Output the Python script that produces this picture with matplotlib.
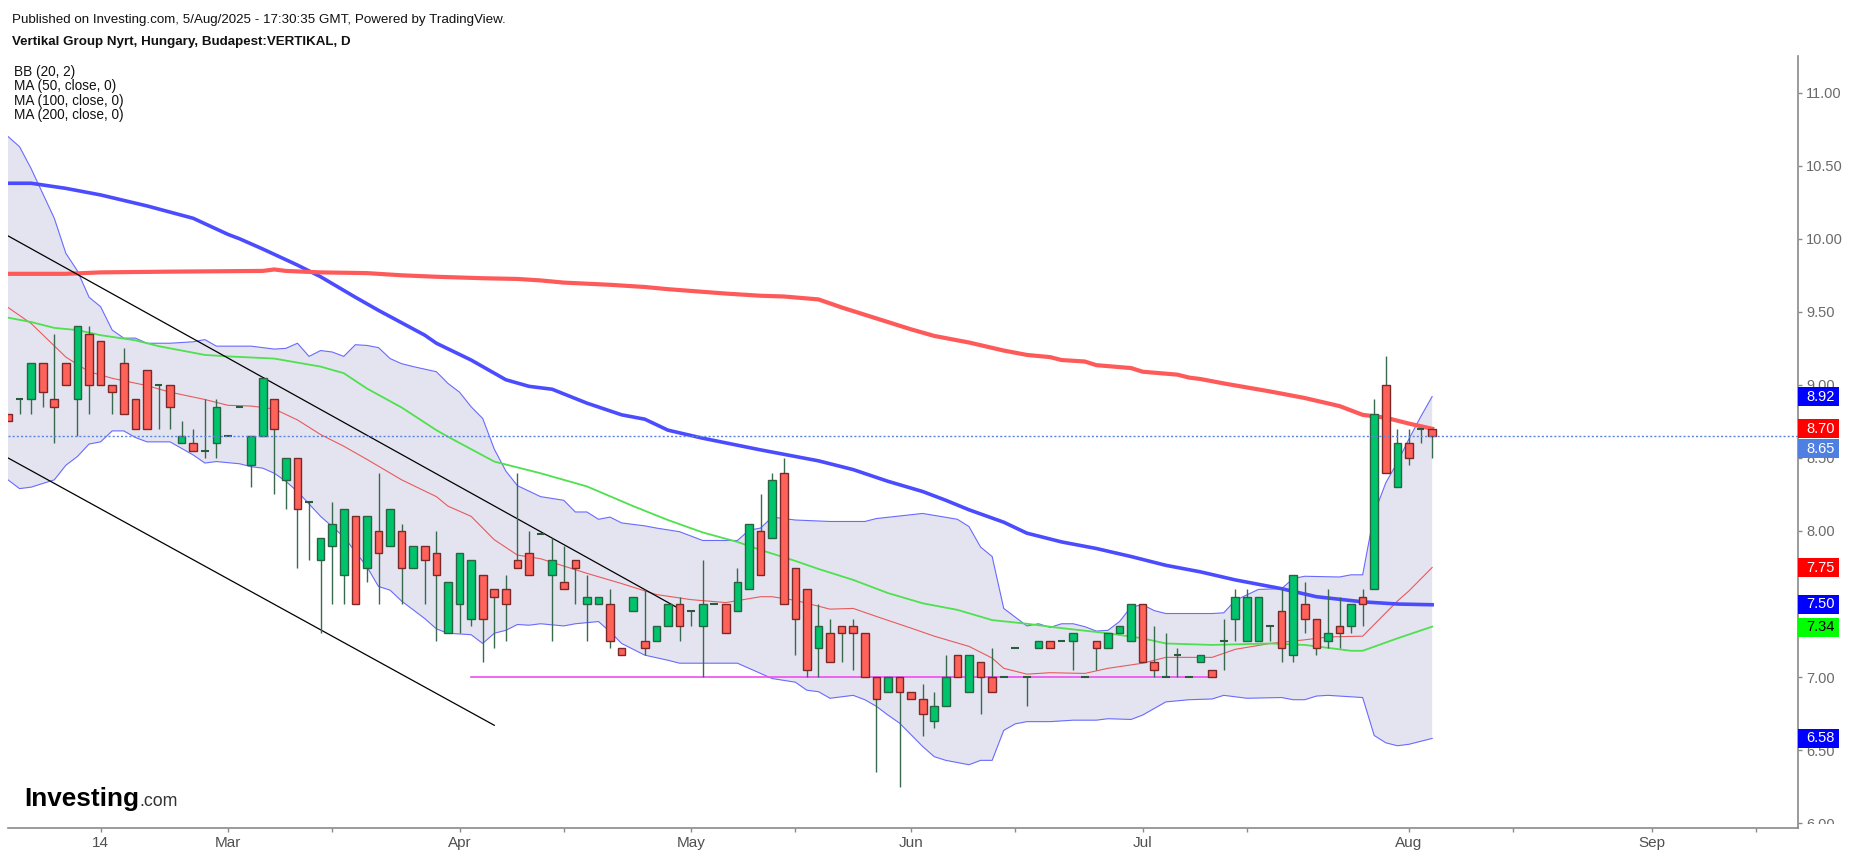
import numpy as np
import matplotlib
matplotlib.use("Agg")
import matplotlib.pyplot as plt
from matplotlib.patches import Rectangle
from matplotlib.transforms import blended_transform_factory, Bbox, TransformedBbox

plt.rcParams['font.family'] = ['Liberation Sans', 'DejaVu Sans']

# daily candles, bar 0 = 4 Feb 2025 ... bar 123 = 5 Aug 2025
opens = [8.80, 8.90, 8.90, 9.15, 8.90, 9.15, 8.90, 9.35, 9.30, 9.00,
         9.15, 8.90, 9.10, 9.00, 9.00, 8.60, 8.60, 8.55, 8.60, 8.65,
         8.85, 8.45, 8.65, 8.90, 8.35, 8.50, 8.20, 7.80, 7.90, 7.70,
         8.10, 7.75, 8.00, 7.90, 8.00, 7.75, 7.90, 7.85, 7.30, 7.50,
         7.40, 7.70, 7.60, 7.60, 7.80, 7.85, 7.98, 7.70, 7.65, 7.80,
         7.50, 7.50, 7.50, 7.20, 7.45, 7.25, 7.25, 7.35, 7.50, 7.45,
         7.35, 7.50, 7.50, 7.45, 7.60, 8.00, 7.95, 8.40, 7.75, 7.60,
         7.20, 7.30, 7.35, 7.35, 7.30, 7.00, 6.90, 7.00, 6.90, 6.85,
         6.70, 6.80, 7.15, 6.90, 7.10, 7.00, 7.00, 7.20, 7.00, 7.20,
         7.25, 7.25, 7.25, 7.00, 7.25, 7.20, 7.30, 7.25, 7.50, 7.10,
         7.00, 7.15, 7.00, 7.10, 7.05, 7.25, 7.40, 7.25, 7.25, 7.35,
         7.45, 7.15, 7.50, 7.40, 7.25, 7.35, 7.35, 7.55, 7.60, 9.00,
         8.30, 8.60, 8.70, 8.70]
highs = [8.80, 8.90, 9.15, 9.15, 9.35, 9.15, 9.40, 9.40, 9.30, 9.00,
         9.25, 8.90, 9.10, 9.00, 9.00, 8.75, 8.70, 8.90, 8.90, 8.65,
         8.85, 8.65, 9.05, 8.90, 8.50, 8.50, 8.20, 7.95, 8.20, 8.15,
         8.10, 8.10, 8.40, 8.15, 8.05, 7.90, 7.90, 8.00, 7.65, 7.85,
         7.80, 7.70, 7.60, 7.70, 8.40, 8.00, 7.98, 7.95, 7.90, 7.80,
         7.70, 7.55, 7.60, 7.20, 7.55, 7.60, 7.35, 7.50, 7.55, 7.45,
         7.80, 7.50, 7.50, 7.75, 8.05, 8.25, 8.40, 8.50, 7.75, 7.60,
         7.50, 7.40, 7.35, 7.40, 7.30, 7.00, 7.00, 7.00, 6.90, 6.95,
         6.90, 7.15, 7.15, 7.15, 7.10, 7.20, 7.00, 7.20, 7.00, 7.25,
         7.25, 7.25, 7.30, 7.00, 7.25, 7.30, 7.35, 7.50, 7.50, 7.35,
         7.30, 7.20, 7.00, 7.15, 7.05, 7.40, 7.60, 7.60, 7.55, 7.35,
         7.60, 7.70, 7.65, 7.40, 7.60, 7.55, 7.50, 7.60, 8.90, 9.20,
         8.70, 8.70, 8.70, 8.70]
lows = [8.75, 8.80, 8.80, 8.85, 8.60, 9.00, 8.65, 8.80, 9.00, 8.80,
        8.80, 8.70, 8.70, 8.70, 8.70, 8.60, 8.55, 8.50, 8.50, 8.65,
        8.85, 8.30, 8.65, 8.25, 8.15, 7.75, 7.80, 7.30, 7.50, 7.50,
        7.50, 7.65, 7.50, 7.90, 7.50, 7.75, 7.50, 7.25, 7.30, 7.30,
        7.35, 7.10, 7.20, 7.25, 7.75, 7.70, 7.98, 7.25, 7.60, 7.50,
        7.25, 7.50, 7.20, 7.15, 7.45, 7.15, 7.25, 7.35, 7.25, 7.35,
        7.00, 7.50, 7.30, 7.45, 7.60, 7.70, 7.95, 7.50, 7.15, 7.00,
        7.00, 7.10, 7.10, 7.05, 7.00, 6.35, 6.90, 6.25, 6.85, 6.60,
        6.65, 6.80, 7.00, 6.90, 6.75, 6.90, 7.00, 7.20, 6.80, 7.20,
        7.20, 7.25, 7.05, 7.00, 7.05, 7.20, 7.30, 7.25, 7.10, 7.00,
        7.00, 7.00, 7.00, 7.10, 7.00, 7.05, 7.25, 7.25, 7.25, 7.25,
        7.10, 7.10, 7.30, 7.15, 7.20, 7.20, 7.30, 7.35, 7.60, 8.40,
        8.30, 8.45, 8.60, 8.50]
closes = [8.75, 8.90, 9.15, 8.95, 8.85, 9.00, 9.40, 9.00, 9.00, 8.95,
          8.80, 8.70, 8.70, 9.00, 8.85, 8.65, 8.55, 8.55, 8.85, 8.65,
          8.85, 8.65, 9.05, 8.70, 8.50, 8.15, 8.20, 7.95, 8.05, 8.15,
          7.50, 8.10, 7.85, 8.15, 7.75, 7.90, 7.80, 7.70, 7.65, 7.85,
          7.80, 7.40, 7.55, 7.50, 7.75, 7.70, 7.98, 7.80, 7.60, 7.75,
          7.55, 7.55, 7.25, 7.15, 7.55, 7.20, 7.35, 7.50, 7.35, 7.45,
          7.50, 7.50, 7.30, 7.65, 8.05, 7.70, 8.35, 7.50, 7.40, 7.05,
          7.35, 7.10, 7.30, 7.30, 7.00, 6.85, 7.00, 6.90, 6.85, 6.75,
          6.80, 7.00, 7.00, 7.15, 7.00, 6.90, 7.00, 7.20, 7.00, 7.25,
          7.20, 7.25, 7.30, 7.00, 7.20, 7.30, 7.35, 7.50, 7.10, 7.05,
          7.00, 7.15, 7.00, 7.15, 7.00, 7.25, 7.55, 7.55, 7.55, 7.35,
          7.20, 7.70, 7.40, 7.20, 7.30, 7.30, 7.50, 7.50, 8.80, 8.40,
          8.60, 8.50, 8.70, 8.65]

# indicator lines at sample bars
ma200_x = [0, 5, 8, 14, 22, 23, 24, 27, 31, 34, 37, 41, 44, 46, 48, 52, 55, 57, 62, 65,
           67, 70, 72, 75, 78, 80, 83, 86, 88, 90, 91, 93, 94, 97, 98, 101, 102, 103, 105,
           109, 112, 115, 117, 119, 121, 123]
ma200_y = [9.76, 9.76, 9.77, 9.775, 9.78, 9.79, 9.78, 9.77, 9.765, 9.75, 9.74, 9.73, 9.725,
           9.715, 9.70, 9.685, 9.67, 9.655, 9.625, 9.61, 9.605, 9.585, 9.53, 9.455, 9.38,
           9.335, 9.29, 9.235, 9.205, 9.19, 9.17, 9.16, 9.135, 9.115, 9.09, 9.07, 9.05,
           9.04, 9.01, 8.955, 8.91, 8.855, 8.795, 8.775, 8.735, 8.70]

ma100_x = [0, 2, 5, 8, 12, 16, 19, 20, 22, 25, 27, 30, 32, 36, 37, 40, 43, 45, 47, 50, 53,
           55, 57, 60, 65, 68, 70, 73, 76, 79, 81, 83, 86, 88, 91, 94, 97, 100, 103, 106,
           110, 113, 117, 120, 123]
ma100_y = [10.38, 10.38, 10.345, 10.30, 10.225, 10.14, 10.03, 10.0, 9.93, 9.82, 9.74, 9.60,
           9.51, 9.34, 9.285, 9.17, 9.035, 8.99, 8.97, 8.875, 8.795, 8.765, 8.69, 8.635,
           8.555, 8.51, 8.48, 8.42, 8.34, 8.27, 8.21, 8.145, 8.06, 7.985, 7.925, 7.88,
           7.825, 7.765, 7.72, 7.665, 7.605, 7.55, 7.515, 7.50, 7.495]

ma50_x = [0, 2, 4, 6, 8, 11, 13, 17, 19, 23, 27, 29, 31, 34, 37, 38, 42, 46, 50, 54, 57,
          60, 63, 65, 68, 70, 73, 76, 79, 82, 85, 88, 91, 95, 98, 100, 104, 109, 112, 116,
          117, 120, 123]
ma50_y = [9.46, 9.43, 9.39, 9.375, 9.34, 9.305, 9.265, 9.205, 9.195, 9.18, 9.125, 9.08,
          8.975, 8.845, 8.69, 8.645, 8.475, 8.395, 8.305, 8.17, 8.075, 7.99, 7.925, 7.87,
          7.795, 7.74, 7.665, 7.575, 7.505, 7.46, 7.39, 7.365, 7.335, 7.30, 7.265, 7.23,
          7.22, 7.23, 7.22, 7.18, 7.18, 7.265, 7.345]

bb_mid_x = [0, 2, 5, 7, 9, 12, 14, 17, 19, 21, 23, 25, 27, 29, 31, 34, 37, 38, 40, 42, 44,
            46, 50, 53, 56, 59, 62, 65, 66, 68, 71, 73, 75, 78, 80, 83, 85, 86, 88, 90, 93,
            95, 98, 100, 104, 106, 109, 112, 114, 117, 118, 119, 120, 121, 122, 123]
bb_mid_y = [9.53, 9.42, 9.19, 9.09, 9.045, 8.995, 8.95, 8.90, 8.86, 8.855, 8.835, 8.76,
            8.66, 8.58, 8.49, 8.35, 8.235, 8.17, 8.10, 7.94, 7.835, 7.81, 7.71, 7.64, 7.565,
            7.53, 7.51, 7.55, 7.55, 7.525, 7.465, 7.47, 7.415, 7.335, 7.28, 7.21, 7.13, 7.06,
            7.02, 7.03, 7.025, 7.06, 7.095, 7.135, 7.135, 7.19, 7.23, 7.255, 7.275, 7.28,
            7.36, 7.44, 7.52, 7.59, 7.67, 7.75]

bb_up_x = [0, 1, 2, 4, 5, 6, 7, 8, 9, 10, 11, 12, 14, 16, 17, 18, 21, 23, 24, 25, 26, 27,
           28, 29, 30, 31, 32, 33, 34, 35, 37, 38, 39, 40, 41, 42, 43, 44, 46, 48, 49, 50,
           51, 52, 53, 55, 56, 58, 60, 63, 64, 65, 66, 67, 68, 71, 74, 75, 79, 82, 83, 84,
           85, 86, 87, 88, 89, 90, 91, 92, 93, 94, 95, 96, 97, 98, 99, 100, 104, 105, 106,
           108, 110, 111, 112, 115, 116, 117, 118, 119, 120, 121, 122, 123]
bb_up_y = [10.70, 10.63, 10.48, 10.14, 9.90, 9.78, 9.60, 9.535, 9.375, 9.32, 9.32, 9.285,
           9.285, 9.295, 9.31, 9.265, 9.265, 9.245, 9.25, 9.285, 9.195, 9.235, 9.225, 9.195,
           9.275, 9.27, 9.255, 9.18, 9.145, 9.125, 9.09, 9.01, 8.95, 8.85, 8.77, 8.56, 8.41,
           8.31, 8.235, 8.21, 8.13, 8.13, 8.08, 8.095, 8.055, 8.035, 8.02, 7.995, 7.935,
           7.935, 8.005, 8.02, 8.095, 8.085, 8.075, 8.065, 8.065, 8.085, 8.12, 8.08, 8.03,
           7.89, 7.825, 7.47, 7.41, 7.35, 7.365, 7.34, 7.365, 7.365, 7.345, 7.315, 7.32,
           7.38, 7.48, 7.495, 7.455, 7.435, 7.435, 7.44, 7.525, 7.60, 7.605, 7.675, 7.69,
           7.685, 7.70, 7.70, 8.12, 8.33, 8.47, 8.63, 8.78, 8.92]

bb_lo_x = [0, 1, 2, 3, 4, 5, 6, 7, 8, 9, 10, 11, 12, 14, 15, 16, 17, 18, 20, 21, 22, 23,
           24, 25, 27, 29, 31, 32, 33, 34, 36, 37, 38, 40, 41, 42, 43, 44, 45, 46, 48, 49,
           51, 52, 53, 55, 57, 58, 63, 64, 66, 68, 69, 70, 71, 73, 74, 75, 76, 77, 78, 79,
           80, 81, 82, 83, 84, 85, 86, 87, 88, 90, 92, 94, 95, 97, 98, 100, 102, 104, 105,
           106, 107, 110, 111, 112, 113, 114, 117, 118, 119, 120, 121, 122, 123]
bb_lo_y = [8.35, 8.29, 8.30, 8.325, 8.35, 8.45, 8.51, 8.595, 8.61, 8.685, 8.685, 8.64, 8.61,
           8.61, 8.565, 8.52, 8.465, 8.475, 8.46, 8.44, 8.43, 8.395, 8.34, 8.27, 8.10, 7.96,
           7.755, 7.62, 7.595, 7.52, 7.40, 7.33, 7.30, 7.29, 7.23, 7.30, 7.32, 7.36, 7.355,
           7.365, 7.35, 7.365, 7.38, 7.31, 7.23, 7.15, 7.115, 7.095, 7.095, 7.06, 6.99,
           6.965, 6.91, 6.90, 6.855, 6.875, 6.845, 6.80, 6.74, 6.685, 6.605, 6.525, 6.455,
           6.43, 6.415, 6.40, 6.43, 6.43, 6.635, 6.68, 6.695, 6.695, 6.705, 6.705, 6.715,
           6.71, 6.74, 6.83, 6.845, 6.85, 6.875, 6.865, 6.855, 6.86, 6.845, 6.845, 6.87,
           6.875, 6.86, 6.60, 6.55, 6.53, 6.54, 6.56, 6.58]

# drawn lines: falling channel and 7.00 support
chan_up_x = [0, 57.7]
chan_up_y = [10.02, 7.48]
chan_lo_x = [0, 42]
chan_lo_y = [8.50, 6.67]
support_x = [40, 104]
support_y = [7.00, 7.00]
last_price = 8.65

tick_pos = [8, 19, 39, 59, 78, 98, 121, 142]
tick_lab = ['14', 'Mar', 'Apr', 'May', 'Jun', 'Jul', 'Aug', 'Sep']
minor_pos = [28, 48, 68, 87, 107, 130, 151]

tag_values = [8.92, 8.70, 8.65, 7.75, 7.50, 7.34, 6.58]
tag_colors = ['#0000ff', '#ff0000', '#4f7fe0', '#ff0000', '#0000ff', '#00ff00', '#0000ff']
tag_text = ['white', 'white', 'white', 'white', 'white', 'black', 'white']

W, H = 1854, 856
PX = 146.1  # pixels per price unit
fig = plt.figure(figsize=(W / 100, H / 100), dpi=100)
ax = fig.add_axes([8 / W, 28 / H, 1790 / W, 772 / H])
ax.set_xlim(0, 154.6)
ax.set_ylim(5.967, 11.251)

# bollinger band
ax.fill(np.r_[bb_up_x, bb_lo_x[::-1]], np.r_[bb_up_y, bb_lo_y[::-1]],
        color='#e4e4f0', lw=0, zorder=1)
ax.plot(bb_up_x, bb_up_y, color='#6a6aff', lw=0.8, zorder=2)
ax.plot(bb_lo_x, bb_lo_y, color='#6a6aff', lw=0.8, zorder=2)
ax.plot(bb_mid_x, bb_mid_y, color='#e85a5c', lw=0.8, zorder=3)
ax.plot(ma50_x, ma50_y, color='#4ee04e', lw=1.3, zorder=3)
ax.plot(ma100_x, ma100_y, color='#4c4cff', lw=2.6, zorder=3)
ax.plot(ma200_x, ma200_y, color='#ff5a5a', lw=3.0, zorder=3)

ax.plot(chan_up_x, chan_up_y, color='black', lw=0.9, zorder=4)
ax.plot(chan_lo_x, chan_lo_y, color='black', lw=0.9, zorder=4)
ax.plot(support_x, support_y, color='#f04cf0', lw=1.2, zorder=4)

# candles
o, h, l, c = map(np.array, (opens, highs, lows, closes))
x = np.arange(len(c))
up, dn, dj = c > o, c < o, c == o
ax.vlines(x, l, h, color='#3a6a4e', lw=1.0, zorder=5)
ax.bar(x[up], (c - o)[up], bottom=o[up], width=0.66, color='#00c46c',
       edgecolor='#2a6242', lw=1.0, zorder=6)
ax.bar(x[dn], (o - c)[dn], bottom=c[dn], width=0.66, color='#ff6259',
       edgecolor='#7a2828', lw=1.0, zorder=6)
ax.hlines(c[dj], x[dj] - 0.33, x[dj] + 0.33, color='#2c5a3e', lw=1.5, zorder=6)

ax.axhline(last_price, color='#5b85e0', lw=1.0, ls=(0, (1.5, 1.5)), zorder=7)

# axes styling
for s in ('top', 'left'):
    ax.spines[s].set_visible(False)
for s in ('bottom', 'right'):
    ax.spines[s].set_color('#8a8a8a')
    ax.spines[s].set_linewidth(1.2)
ax.yaxis.tick_right()
yt = np.arange(6, 11.01, 0.5)
ax.set_yticks(yt)
ax.set_yticklabels([f'{v:.2f}' for v in yt])
ax.tick_params(axis='y', length=3, width=1, color='#8a8a8a', labelcolor='#6a6a6a',
               labelsize=10.5, pad=3)
ax.set_xticks(tick_pos)
ax.set_xticklabels(tick_lab, family=['Liberation Sans Narrow', 'Liberation Sans'])
ax.set_xticks(minor_pos, minor=True)
ax.tick_params(axis='x', which='both', length=3, width=1, color='#8a8a8a',
               labelcolor='#505050', labelsize=11, pad=3)
clip = TransformedBbox(Bbox([[0, 32 / H], [1, 1]]), fig.transFigure)
for t in ax.get_yticklabels():
    t.set_clip_box(clip)
    t.set_clip_on(True)

# last-value tags on the price scale; the last-price tag gives way to its neighbour
trans = blended_transform_factory(ax.transAxes, ax.transData)
box_h = 19 / PX
step = 20 / PX
for v, fc, tc in zip(tag_values, tag_colors, tag_text):
    pos = v
    if v == last_price:
        for other in tag_values:
            if other != v and abs(other - v) < step:
                pos = other - step if other > v else other + step
    ax.add_patch(Rectangle((1.0, pos - box_h / 2), 41 / 1790, box_h, transform=trans,
                           facecolor=fc, edgecolor='none', clip_on=False, zorder=20))
    ax.text(1.0 + 8 / 1790, pos, f'{v:.2f}', transform=trans, color=tc, fontsize=10.5,
            ha='left', va='center', clip_on=False, zorder=21)

# header
fig.text(12 / W, 1 - 20 / H,
         'Published on Investing.com, 5/Aug/2025 - 17:30:35 GMT, Powered by TradingView.',
         fontsize=9.6, va='center', color='#111111')
fig.text(12 / W, 1 - 42 / H, 'Vertikal Group Nyrt, Hungary, Budapest:VERTIKAL, D',
         fontsize=9.6, fontweight='bold', va='center', color='#111111')
for k, s in enumerate(['BB (20, 2)', 'MA (50, close, 0)', 'MA (100, close, 0)',
                       'MA (200, close, 0)']):
    fig.text(14 / W, 1 - (72 + 14.3 * k) / H, s, fontsize=9.8, va='center', color='#111111')

# logo
logo = fig.text(24 / W, 50 / H, 'Investing', fontsize=18.8, fontweight='bold',
                va='baseline', color='black')
bb = logo.get_window_extent(fig.canvas.get_renderer())
fig.text(bb.x1 / W, 50 / H, '.com', fontsize=12.8, va='baseline', color='#333333')

fig.savefig('out.png', dpi=100)
